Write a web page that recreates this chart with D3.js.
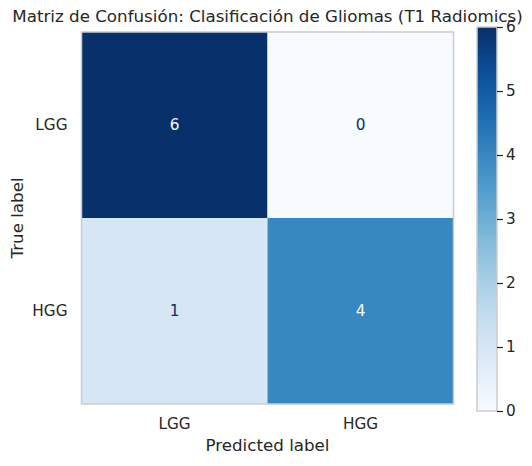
<!DOCTYPE html>
<html>
<head>
<meta charset="utf-8">
<script src="https://cdn.jsdelivr.net/npm/d3@7"></script>
<style>
  body { margin: 0; background: #fff; }
  svg { display: block; font-family: "DejaVu Sans", sans-serif; }
</style>
</head>
<body>
<svg id="chart" width="532" height="466"></svg>
<script>
// data
const classes = ['LGG', 'HGG'];
const matrix = [
  [6, 0],
  [1, 4]
];
const cbTicks = [0, 1, 2, 3, 4, 5, 6];
const title = 'Matriz de Confusión: Clasificación de Gliomas (T1 Radiomics)';

const svg = d3.select('#chart');
const ink = '#262626';
const frame = { left: 81.5, top: 32, size: 372 };

const color = d3.scaleSequential(d3.interpolateBlues).domain([0, 6]);

const x = d3.scaleBand().domain(classes).range([frame.left, frame.left + frame.size]);
const y = d3.scaleBand().domain(classes).range([frame.top, frame.top + frame.size]);

const cells = [];
matrix.forEach((row, i) => row.forEach((v, j) => cells.push({ t: classes[i], p: classes[j], v })));

svg.append('g').selectAll('rect')
  .data(cells)
  .join('rect')
  .attr('x', (d) => x(d.p))
  .attr('y', (d) => y(d.t))
  .attr('width', x.bandwidth())
  .attr('height', y.bandwidth())
  .attr('fill', (d) => color(d.v));

svg.append('g').selectAll('text')
  .data(cells)
  .join('text')
  .attr('x', (d) => x(d.p) + x.bandwidth() / 2)
  .attr('y', (d) => y(d.t) + y.bandwidth() / 2)
  .attr('text-anchor', 'middle')
  .attr('dominant-baseline', 'central')
  .attr('font-size', 15.3)
  .attr('fill', (d) => (d.v > 3 ? color(0) : color(6)))
  .text((d) => d.v);

svg.append('rect')
  .attr('x', frame.left).attr('y', frame.top)
  .attr('width', frame.size).attr('height', frame.size)
  .attr('fill', 'none').attr('stroke', '#cccccc').attr('stroke-width', 1.5);

// axes
const xAxis = svg.append('g')
  .attr('transform', `translate(0,${frame.top + frame.size})`)
  .call(d3.axisBottom(x).tickSize(0).tickPadding(14));
const yAxis = svg.append('g')
  .attr('transform', `translate(${frame.left},0)`)
  .call(d3.axisLeft(y).tickSize(0).tickPadding(14));
[xAxis, yAxis].forEach((a) => {
  a.select('.domain').remove();
  a.selectAll('text').attr('font-size', 15.3).attr('fill', ink).attr('font-family', '"DejaVu Sans", sans-serif');
});

svg.append('text')
  .attr('x', frame.left + frame.size / 2).attr('y', 451)
  .attr('text-anchor', 'middle').attr('font-size', 16.7).attr('fill', ink)
  .text('Predicted label');

svg.append('text')
  .attr('transform', `translate(23,${frame.top + frame.size / 2}) rotate(-90)`)
  .attr('text-anchor', 'middle').attr('font-size', 16.7).attr('fill', ink)
  .text('True label');

svg.append('text')
  .attr('x', frame.left + frame.size / 2).attr('y', 22)
  .attr('text-anchor', 'middle').attr('font-size', 16.7).attr('fill', ink)
  .text(title);

// colorbar
const cb = { x: 477, w: 20, top: 27, bottom: 411 };
const cbScale = d3.scaleLinear().domain([0, 6]).range([cb.bottom, cb.top]);
const grad = svg.append('defs').append('linearGradient')
  .attr('id', 'cbgrad').attr('x1', 0).attr('y1', 1).attr('x2', 0).attr('y2', 0);
d3.range(0, 1.0001, 0.05).forEach((t) => {
  grad.append('stop').attr('offset', t).attr('stop-color', color(t * 6));
});
svg.append('rect')
  .attr('x', cb.x).attr('y', cb.top)
  .attr('width', cb.w).attr('height', cb.bottom - cb.top)
  .attr('fill', 'url(#cbgrad)')
  .attr('stroke', '#cccccc').attr('stroke-width', 1.5);

const cbAxis = svg.append('g')
  .attr('transform', `translate(${cb.x + cb.w},0)`)
  .call(d3.axisRight(cbScale).tickValues(cbTicks).tickSize(6).tickPadding(3).tickFormat(d3.format('d')));
cbAxis.select('.domain').remove();
cbAxis.selectAll('line').attr('stroke', ink).attr('stroke-width', 1.2);
cbAxis.selectAll('text').attr('font-size', 15.3).attr('fill', ink).attr('font-family', '"DejaVu Sans", sans-serif');
</script>
</body>
</html>
